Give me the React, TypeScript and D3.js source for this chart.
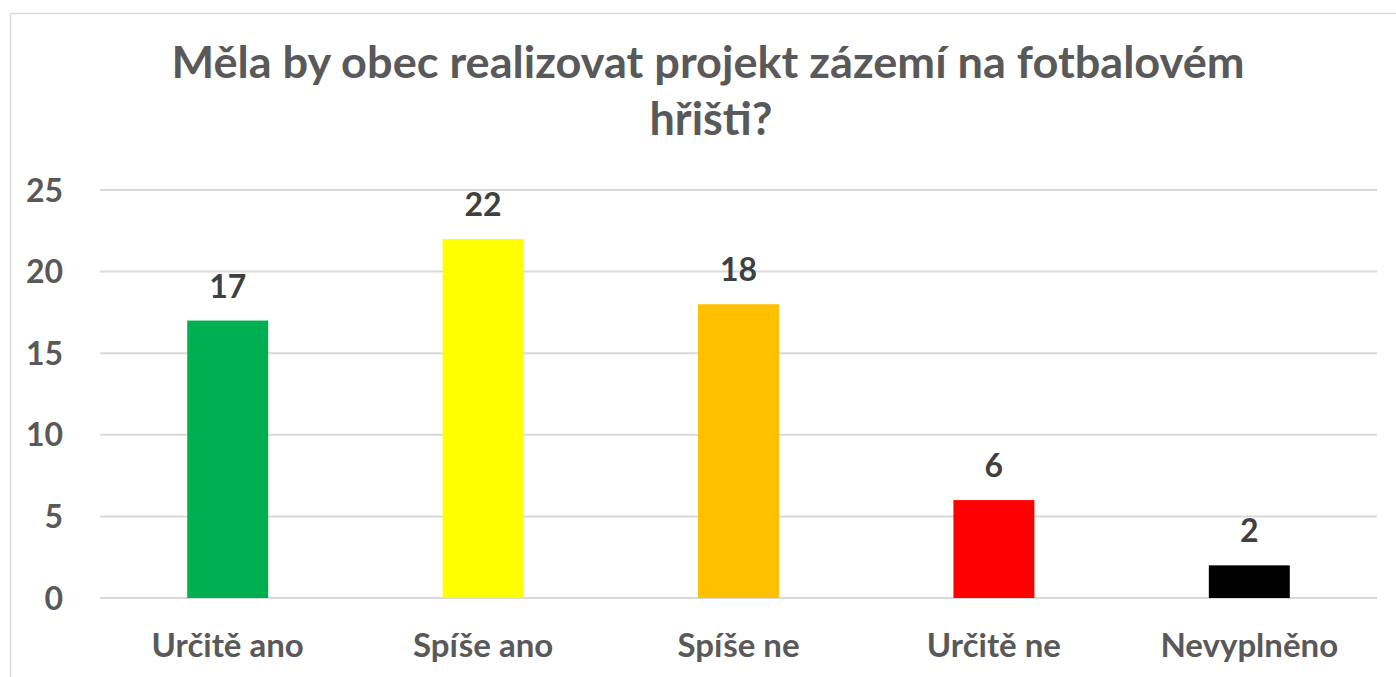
import React from "react";
import * as d3 from "d3";

const categories = ["Určitě ano", "Spíše ano", "Spíše ne", "Určitě ne", "Nevyplněno"];
const values = [17, 22, 18, 6, 2];
const barColors = ["#00B050", "#FFFF00", "#FFC000", "#FF0000", "#000000"];
const yTicks = [0, 5, 10, 15, 20, 25];
const titleLines = ["Měla by obec realizovat projekt zázemí na fotbalovém", "hřišti?"];

const W = 1396;
const H = 677;
const FONT = "Lato, 'Open Sans', sans-serif";

export default function App() {
  const p = 0.683;
  const x = d3.scaleBand<string>().domain(categories).range([100, 1377]).paddingInner(p).paddingOuter(p / 2);
  const y = d3.scaleLinear().domain([0, 25]).range([598, 190]);

  return (
    <svg
      width={W}
      height={H}
      style={{ position: "absolute", left: 0, top: 0, display: "block", background: "#fff" }}
    >
      <rect x={10.5} y={13.5} width={1420} height={720} fill="#fff" stroke="#d9d9d9" strokeWidth={1.5} />
      <text x={708} y={78} textAnchor="middle" fontFamily={FONT} fontWeight={700} fontSize={43} fill="#595959" textLength={1073} lengthAdjust="spacingAndGlyphs">
        {titleLines[0]}
      </text>
      <text x={711} y={135} textAnchor="middle" fontFamily={FONT} fontWeight={700} fontSize={45} fill="#595959">
        {titleLines[1]}
      </text>
      {yTicks.map((t) => (
        <g key={t}>
          <line x1={100} x2={1377} y1={y(t)} y2={y(t)} stroke="#d9d9d9" strokeWidth={2} />
          <text x={63} y={y(t) + 11.5} textAnchor="end" fontFamily={FONT} fontWeight={700} fontSize={32} fill="#595959">
            {t}
          </text>
        </g>
      ))}
      {categories.map((c, i) => {
        const bx = x(c)!;
        const bw = x.bandwidth();
        const cx = bx + bw / 2;
        return (
          <g key={c}>
            <rect x={bx} y={y(values[i])} width={bw} height={y(0) - y(values[i])} fill={barColors[i]} />
            <text x={cx} y={y(values[i]) - 23} textAnchor="middle" fontFamily={FONT} fontWeight={700} fontSize={32} fill="#404040">
              {values[i]}
            </text>
            <text x={cx} y={657} textAnchor="middle" fontFamily={FONT} fontWeight={700} fontSize={33} fill="#595959">
              {c}
            </text>
          </g>
        );
      })}
    </svg>
  );
}
